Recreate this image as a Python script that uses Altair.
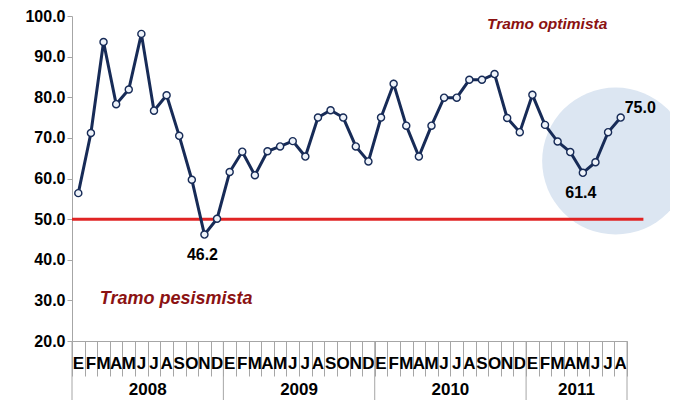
import altair as alt
import pandas as pd

# ---- data ----
month_letters = list("EFMAMJJASOND") * 3 + list("EFMAMJJA")
values = [56.4, 71.2, 93.6, 78.3, 81.9, 95.6, 76.7, 80.5, 70.5, 59.7, 46.2, 50.1,
          61.6, 66.6, 60.8, 66.7, 67.9, 69.2, 65.4, 75.0, 76.8, 75.0, 67.9, 64.2,
          75.0, 83.3, 73.0, 65.4, 73.0, 79.9, 79.9, 84.3, 84.3, 85.7, 74.9, 71.4,
          80.6, 73.2, 69.1, 66.5, 61.4, 64.0, 71.4, 75.0]
years = ["2008", "2009", "2010", "2011"]
year_start = [0, 12, 24, 36]
year_len = [12, 12, 12, 8]
threshold = 50.0
threshold_end = 45.3          # the red line runs a little past the last month
highlight_x = [43.1]          # centre of the shaded circle (month units)
highlight_y = [64.3]
label_idx_below = [10, 40]    # 46.2 and 61.4
label_idx_right = [43]        # 75.0
zone_text = ["Tramo optimista", "Tramo pesismista"]
zone_x = [32.9, 2.2]
zone_y = [96.8, 29.1]
zone_size = [15.5, 18]

W, H = 555, 325
NAVY = "#172b57"
GRAY = "#a6a6a6"
DARKRED = "#8b1212"

n = len(values)
df = pd.DataFrame({"x": [i + 0.5 for i in range(n)], "v": values, "m": month_letters})
df["lab"] = df["v"].map(lambda v: f"{v:.1f}")

xs = alt.Scale(domain=[0, n], nice=False, zero=False)
ys = alt.Scale(domain=[20, 100], nice=False, zero=False)

x_axis = alt.Axis(values=list(range(n + 1)), labels=False, title=None, tickSize=35,
                  tickColor=GRAY, domainColor=GRAY, grid=False, tickWidth=1)
y_axis = alt.Axis(values=list(range(20, 101, 10)), format=".1f", title=None, grid=False,
                  tickSize=5, labelFont="Liberation Sans", labelFontWeight="bold",
                  labelFontSize=16, labelColor="black", labelPadding=2,
                  domainColor=GRAY, tickColor=GRAY)


def X(field="x"):
    return alt.X(f"{field}:Q", scale=xs, axis=x_axis)


def Y(field="v"):
    return alt.Y(f"{field}:Q", scale=ys, axis=y_axis)


circle = alt.Chart(pd.DataFrame({"x": highlight_x, "v": highlight_y})).mark_point(
    filled=True, shape="circle", size=21600, color="#dce6f2", opacity=1
).encode(x=X(), y=Y())

redline = alt.Chart(pd.DataFrame({"x": [0], "x2": [threshold_end], "v": [threshold]})).mark_rule(
    color="#e02424", strokeWidth=3
).encode(x=X(), x2="x2:Q", y=Y())

line = alt.Chart(df).mark_line(color=NAVY, strokeWidth=3).encode(x=X(), y=Y())

pts = alt.Chart(df).mark_point(filled=True, shape="circle", size=50, fill="#eef3fa",
                               stroke=NAVY, strokeWidth=1.4, opacity=1).encode(x=X(), y=Y())

months = alt.Chart(df).mark_text(font="Liberation Sans", fontWeight="bold", fontSize=17,
                                 baseline="alphabetic", color="black").encode(
    x=X(), y=alt.value(353), text="m:N")

ydf = pd.DataFrame({"yr": years, "s": year_start, "l": year_len})
ydf["x"] = ydf["s"] + ydf["l"] / 2
sep = pd.DataFrame({"x": year_start + [year_start[-1] + year_len[-1]]})
seps = alt.Chart(sep).mark_rule(color=GRAY, strokeWidth=1).encode(
    x=X(), y=alt.value(H), y2=alt.value(H + 70))
yrs = alt.Chart(ydf).mark_text(font="Liberation Sans", fontWeight="bold", fontSize=17,
                               baseline="alphabetic", color="black").encode(
    x=X(), y=alt.value(379), text="yr:N")

lab_below = alt.Chart(df.iloc[label_idx_below]).mark_text(
    font="Liberation Sans", fontWeight="bold", fontSize=16, baseline="alphabetic",
    color="black", dy=25, dx=-2).encode(x=X(), y=Y(), text="lab:N")
lab_right = alt.Chart(df.iloc[label_idx_right]).mark_text(
    font="Liberation Sans", fontWeight="bold", fontSize=16, baseline="alphabetic",
    align="left", color="black", dy=-5, dx=4).encode(x=X(), y=Y(), text="lab:N")

zdf = pd.DataFrame({"t": zone_text, "x": zone_x, "v": zone_y, "fs": zone_size})
zones = alt.Chart(zdf).mark_text(font="Liberation Sans", fontWeight="bold", fontStyle="italic",
                                 align="left", baseline="alphabetic", color=DARKRED).encode(
    x=X(), y=Y(), text="t:N", size=alt.Size("fs:Q", scale=None, legend=None))

chart = alt.layer(circle, redline, line, pts, months, seps, yrs, lab_below, lab_right, zones).properties(
    width=W, height=H,
    padding={"left": 64, "top": 8, "right": 43, "bottom": 59},
    autosize=alt.AutoSizeParams(type="none"),
).configure_view(stroke=None)

chart.save("out.html", embed_options={"renderer": "svg", "actions": False})
